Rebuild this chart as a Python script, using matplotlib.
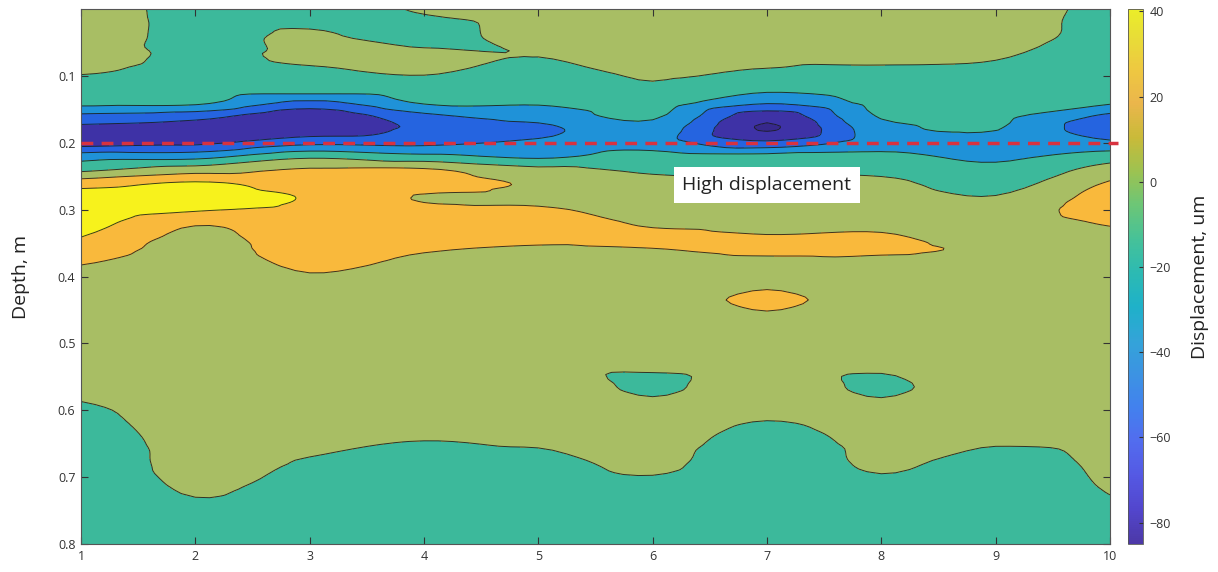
import numpy as np
import matplotlib
matplotlib.use("Agg")
import matplotlib.pyplot as plt
import matplotlib.tri as mtri
from matplotlib.colors import LinearSegmentedColormap, Normalize
from matplotlib.cm import ScalarMappable

# ---------------- data ----------------
x_pos = [1, 2, 3, 4, 5, 6, 7, 8, 9, 10]
depth = [0.0, 0.04, 0.07, 0.10, 0.12, 0.14, 0.16, 0.18, 0.20, 0.22, 0.24, 0.26,
         0.28, 0.30, 0.32, 0.34, 0.36, 0.38, 0.40, 0.435, 0.48, 0.52, 0.565,
         0.60, 0.64, 0.68, 0.72, 0.76, 0.80]

disp_x1 = [8, 7, 4, -0.5, -8, -14, -45, -66, -68, -30, -5, 30, 50, 55, 50, 40.5, 30, 21, 15,
           12, 10, 8, 5, -3, -8, -10, -10, -10, -10]
disp_x2 = [-4, -3, -1.5, -3.5, -8, -16, -52, -72, -64, -28, 10, 42, 50, 42, 22, 16, 14, 12, 11,
           10, 9, 8, 7, 6, 5, 4, 1, -3, -5]
disp_x3 = [-6, 1.5, 1.5, -3, -10, -45, -75, -72, -45, -5, 22, 30, 38, 36, 33, 30, 27, 23, 19,
           13, 10, 9, 8, 6, 3, -1, -5, -8, -10]
disp_x4 = [1.5, -5, 3, -0.3, -8, -18, -45, -55, -45, -15, 22, 28, 19, 23, 28, 26, 21, 17, 15,
           13, 11, 10, 8, 4, 0.5, -3, -6, -8, -10]
disp_x5 = [8, 6, 0.3, -8, -13, -18, -32, -45, -36, -24, 5, 17, 15, 22, 28, 24, 18, 15, 14,
           12, 10, 9, 14, 6, 2, -3, -6, -8, -10]
disp_x6 = [8, 6, 4, 1.5, -3, -10, -17, -28, -30, -12, -3, 5, 10, 14, 18, 23, 19.5, 15, 12,
           10, 8, 7, -4, 6, 4, 2, -3, -7, -10]
disp_x7 = [8, 6, 2, -3, -16, -38, -72, -81.5, -55, -14, -3, 3, 10, 13, 16, 20.5, 22, 17, 14,
           24, 10, 12, 14, 3, -3, -6, -8, -10, -10]
disp_x8 = [8, 5, 2, -3, -8, -13, -18, -28, -29, -15, -5, 4, 9, 13, 17, 21, 22, 16, 13,
           10, 8, 7, -4, 5, 3, 1.5, -3, -7, -10]
disp_x9 = [8, 5, 1, -4, -8, -12, -16, -19.5, -28, -24, -15, -8, 0.5, 8, 10, 15, 18, 14, 12,
           10, 8, 7, 14, 6, 2, -4, -8, -10, -10]
disp_x10 = [-5, -5, -8, -10, -14, -18, -45, -57, -35, -10, 8, 22, 30, 32, 22, 15, 12, 10, 9,
            8, 7, 6, 5, 4, 3, 2, 0.5, -3, -5]

contour_levels = [-80, -60, -40, -20, 0, 20, 40]
cbar_ticks = [-80, -60, -40, -20, 0, 20, 40]
x_ticks = [1, 2, 3, 4, 5, 6, 7, 8, 9, 10]
y_ticks = [0.1, 0.2, 0.3, 0.4, 0.5, 0.6, 0.7, 0.8]
marker_depth = 0.2
note_text = "High displacement"
note_x, note_depth = 7.0, 0.263
clim = (-85, 40.5)

# ---------------- colours ----------------
parula_pts = [
    (0.2422, 0.1504, 0.6603), (0.2706, 0.2147, 0.8364), (0.2813, 0.3006, 0.9414),
    (0.2699, 0.3892, 0.9906), (0.1963, 0.4847, 0.9892), (0.1687, 0.5703, 0.9359),
    (0.1248, 0.6459, 0.8883), (0.0297, 0.7082, 0.8163), (0.0964, 0.7500, 0.7120),
    (0.2161, 0.7843, 0.5923), (0.3909, 0.8029, 0.4354), (0.6174, 0.7876, 0.2612),
    (0.8203, 0.7498, 0.1535), (0.9728, 0.7298, 0.2394), (0.9892, 0.8136, 0.1885),
    (0.9597, 0.9141, 0.1423), (0.9763, 0.9831, 0.0805)]
pos = [0, 4, 8, 12, 16, 20, 24, 28, 32, 36, 40, 44, 48, 52, 56, 60, 63]
gray = np.array([0.62, 0.62, 0.62])
muted = [tuple(0.85 * np.array(c) + 0.15 * gray) for c in parula_pts]
parula = LinearSegmentedColormap.from_list(
    "parula_muted", [(p / 63.0, c) for p, c in zip(pos, muted)], N=256)
norm = Normalize(vmin=clim[0], vmax=clim[1])

# fill colours of the bands (below -80, -80..-60, ..., above 40)
band_colors = ["#37288c", "#3e32a6", "#2564e0", "#1f92d8",
               "#3cb99b", "#a8be64", "#f9b93c", "#f7f21c"]

# ---------------- figure ----------------
plt.rcParams["font.family"] = ["Open Sans", "DejaVu Sans"]
fig = plt.figure(figsize=(12.18, 5.72), dpi=100)
ax = fig.add_axes([0.0665, 0.049, 0.8448, 0.935])
cax = fig.add_axes([0.926, 0.049, 0.0123, 0.935])

Z = np.column_stack([disp_x1, disp_x2, disp_x3, disp_x4, disp_x5,
                     disp_x6, disp_x7, disp_x8, disp_x9, disp_x10])
X, Y = np.meshgrid(x_pos, depth)

# smooth rendering of the measured grid with matplotlib's triangulation refiner
ys = 10.0
tri = mtri.Triangulation(X.ravel(), Y.ravel() * ys)
interp = mtri.CubicTriInterpolator(tri, Z.ravel(), kind="geom")
refiner = mtri.UniformTriRefiner(tri)
tri_f, z_f = refiner.refine_field(Z.ravel(), triinterpolator=interp, subdiv=3)
tri_f = mtri.Triangulation(tri_f.x, tri_f.y / ys, tri_f.triangles)

fill_levels = [-1000] + contour_levels + [1000]
ax.tricontourf(tri_f, z_f, levels=fill_levels, colors=band_colors)
ax.tricontour(tri_f, z_f, levels=contour_levels, colors="#1a1a1a", linewidths=0.7,
              alpha=0.85, linestyles="solid")

ax.plot([x_pos[0], x_pos[-1] + 0.07], [marker_depth, marker_depth], color="#d8323f",
        lw=2.5, linestyle=(0, (3.4, 2.4)), clip_on=False, zorder=5)

ax.text(note_x, note_depth, note_text, ha="center", va="center", fontsize=14,
        color="#222222", zorder=6,
        bbox=dict(facecolor="white", edgecolor="none", boxstyle="square,pad=0.45"))

ax.set_xlim(x_pos[0], x_pos[-1])
ax.set_ylim(0.8, 0.0)
ax.set_xticks(x_ticks)
ax.set_xticklabels([str(v) for v in x_ticks])
ax.set_yticks(y_ticks)
ax.set_yticklabels([f"{v:.1f}" for v in y_ticks])
ax.tick_params(direction="in", length=5, width=0.8, top=True, right=True,
               labelsize=9, colors="#333333", pad=4)
ax.set_ylabel("Depth, m", fontsize=14, color="#222222", labelpad=20)
for s in ax.spines.values():
    s.set_color("#555555")
    s.set_linewidth(0.8)

sm = ScalarMappable(norm=norm, cmap=parula)
cb = fig.colorbar(sm, cax=cax, ticks=cbar_ticks)
cb.outline.set_edgecolor("#555555")
cb.outline.set_linewidth(0.6)
cax.tick_params(direction="in", length=3, labelsize=9, colors="#333333", pad=5)
cb.set_label("Displacement, um", fontsize=14, color="#222222", labelpad=14)

fig.savefig("out.png", dpi=100)
